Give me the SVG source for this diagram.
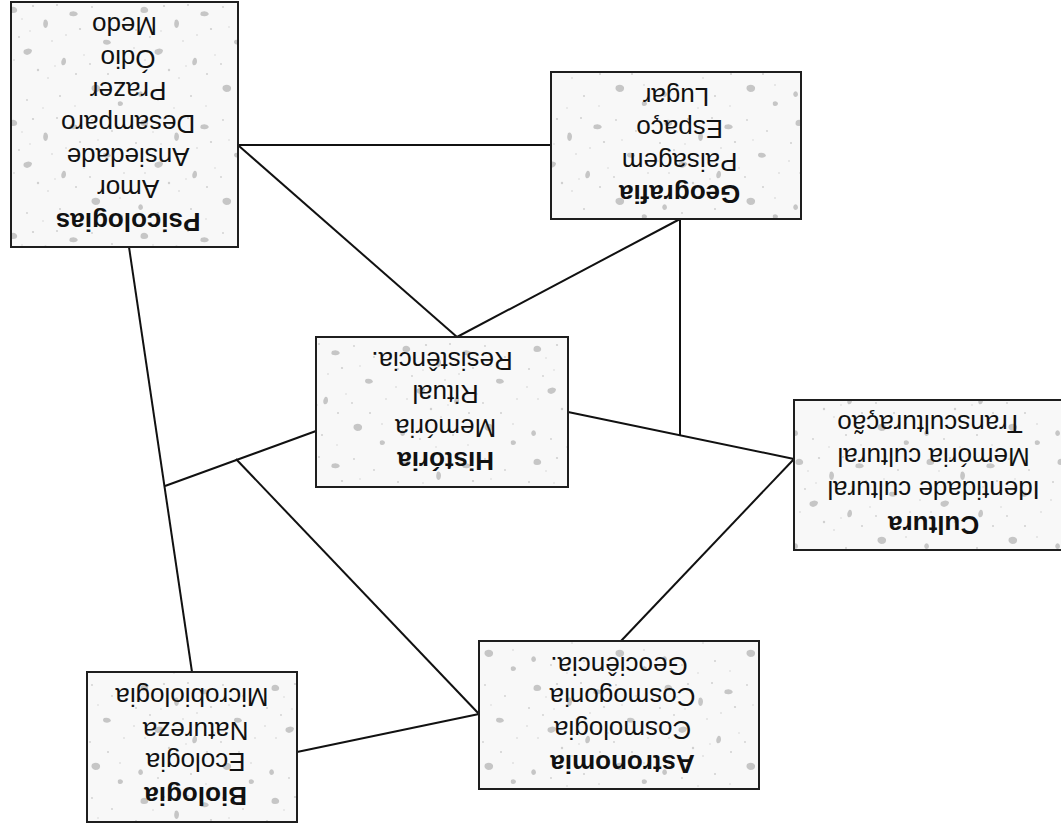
<svg xmlns="http://www.w3.org/2000/svg" width="1061" height="834" viewBox="0 0 1061 834">
  <defs>
    <pattern id="speckle" patternUnits="userSpaceOnUse" width="131" height="113">
      <rect width="131" height="113" fill="#f8f8f8"/>
      <g fill="#c6c6c6">
        <path d="M10 8 q4 -3 7 1 q1 4 -4 4 q-5 0 -3 -5z"/>
        <path d="M44 20 q3 -2 4 3 q0 5 -3 5 q-3 -2 -1 -8z"/>
        <path d="M70 12 q6 -2 8 2 q-2 3 -6 2 q-4 0 -2 -4z"/>
        <path d="M24 50 q5 -3 8 0 q0 4 -5 5 q-5 -1 -3 -5z"/>
        <path d="M63 58 q3 -1 3 4 q-1 4 -4 3 q-2 -3 1 -7z"/>
        <path d="M104 40 q6 -1 7 3 q-3 3 -7 1 q-2 -2 0 -4z"/>
        <path d="M8 92 q3 -2 4 2 q0 3 -3 3 q-3 -2 -1 -5z"/>
        <path d="M92 86 q5 -3 8 1 q1 5 -5 5 q-5 -2 -3 -6z"/>
        <path d="M118 102 q3 -2 5 1 q0 3 -3 3 q-3 0 -2 -4z"/>
      </g>
      <g fill="#d0d0d0">
        <circle cx="5" cy="30" r="1"/><circle cx="19" cy="37" r="0.9"/><circle cx="33" cy="6" r="1.1"/>
        <circle cx="52" cy="41" r="0.8"/><circle cx="57" cy="5" r="1"/><circle cx="80" cy="29" r="1.1"/>
        <circle cx="92" cy="7" r="0.9"/><circle cx="38" cy="70" r="1.2"/><circle cx="48" cy="78" r="0.8"/>
        <circle cx="76" cy="74" r="1"/><circle cx="90" cy="64" r="0.9"/><circle cx="14" cy="60" r="0.8"/>
        <circle cx="30" cy="31" r="0.7"/><circle cx="66" cy="35" r="0.8"/><circle cx="84" cy="55" r="0.7"/>
        <circle cx="22" cy="19" r="0.7"/><circle cx="55" cy="66" r="0.7"/><circle cx="3" cy="48" r="0.8"/>
        <circle cx="112" cy="18" r="0.9"/><circle cx="124" cy="60" r="0.8"/><circle cx="108" cy="74" r="1"/>
        <circle cx="27" cy="100" r="0.9"/><circle cx="60" cy="96" r="1"/><circle cx="75" cy="106" r="0.7"/>
        <circle cx="120" cy="85" r="0.8"/><circle cx="43" cy="108" r="0.7"/><circle cx="98" cy="27" r="0.7"/>
      </g>
    </pattern>
    <style>
      .box { fill: url(#speckle); stroke: #1e1e1e; stroke-width: 2; }
      .lbl { font-family: "Liberation Sans", Arial, sans-serif; font-size: 26px; fill: #111; text-anchor: middle; }
      .ttl { font-weight: bold; }
      .edge { stroke: #111; stroke-width: 2; fill: none; }
    </style>
  </defs>
  <rect width="1061" height="834" fill="#ffffff"/>

  <g id="connectors">
    <line class="edge" x1="238" y1="145" x2="551" y2="145"/>
    <line class="edge" x1="239" y1="146" x2="457" y2="337"/>
    <line class="edge" x1="680" y1="219" x2="457" y2="337"/>
    <line class="edge" x1="680" y1="219" x2="680" y2="436"/>
    <line class="edge" x1="568" y1="412" x2="794" y2="459"/>
    <line class="edge" x1="794" y1="459" x2="621" y2="641"/>
    <line class="edge" x1="129" y1="247" x2="192" y2="672"/>
    <line class="edge" x1="165" y1="486" x2="316" y2="431"/>
    <line class="edge" x1="236" y1="459" x2="479" y2="714"/>
    <line class="edge" x1="297" y1="752" x2="479" y2="714"/>
  </g>

  <g id="psicologias">
    <rect class="box" x="11" y="2" width="227" height="245"/>
    <text class="lbl" transform="rotate(180 124.5 124.5)">
      <tspan class="ttl" x="124.5" y="36">Psicologias</tspan>
      <tspan x="124.5" y="68.7">Amor</tspan>
      <tspan x="124.5" y="101.4">Ansiedade</tspan>
      <tspan x="124.5" y="134.1">Desamparo</tspan>
      <tspan x="124.5" y="166.8">Prazer</tspan>
      <tspan x="124.5" y="199.5">Ódio</tspan>
      <tspan x="124.5" y="232.2">Medo</tspan>
    </text>
  </g>

  <g id="geografia">
    <rect class="box" x="551" y="72" width="250" height="147"/>
    <text class="lbl" transform="rotate(180 676 145.5)">
      <tspan class="ttl" x="676" y="106">Geografia</tspan>
      <tspan x="676" y="138.5">Paisagem</tspan>
      <tspan x="676" y="171">Espaço</tspan>
      <tspan x="676" y="203.5">Lugar</tspan>
    </text>
  </g>

  <g id="historia">
    <rect class="box" x="316" y="337" width="252" height="150"/>
    <text class="lbl" transform="rotate(180 442 412)">
      <tspan class="ttl" x="442" y="372">História</tspan>
      <tspan x="442" y="405.5">Memória</tspan>
      <tspan x="442" y="439">Ritual</tspan>
      <tspan x="442" y="472">Resistência.</tspan>
    </text>
  </g>

  <g id="cultura">
    <rect class="box" x="794" y="400" width="272" height="150"/>
    <text class="lbl" transform="rotate(180 930 475)">
      <tspan class="ttl" x="930" y="434">Cultura</tspan>
      <tspan x="930" y="469">Identidade cultural</tspan>
      <tspan x="930" y="502.5">Memória cultural</tspan>
      <tspan x="930" y="535">Transculturação</tspan>
    </text>
  </g>

  <g id="astronomia">
    <rect class="box" x="479" y="641" width="280" height="148"/>
    <text class="lbl" transform="rotate(180 619 715)">
      <tspan class="ttl" x="619" y="675">Astronomia</tspan>
      <tspan x="619" y="709.5">Cosmologia</tspan>
      <tspan x="619" y="742">Cosmogonia</tspan>
      <tspan x="619" y="773.5">Geociência.</tspan>
    </text>
  </g>

  <g id="biologia">
    <rect class="box" x="87" y="672" width="210" height="150"/>
    <text class="lbl" transform="rotate(180 192 747)">
      <tspan class="ttl" x="192" y="707">Biologia</tspan>
      <tspan x="192" y="741">Ecologia</tspan>
      <tspan x="192" y="772.5">Natureza</tspan>
      <tspan x="192" y="806">Microbiologia</tspan>
    </text>
  </g>
</svg>
